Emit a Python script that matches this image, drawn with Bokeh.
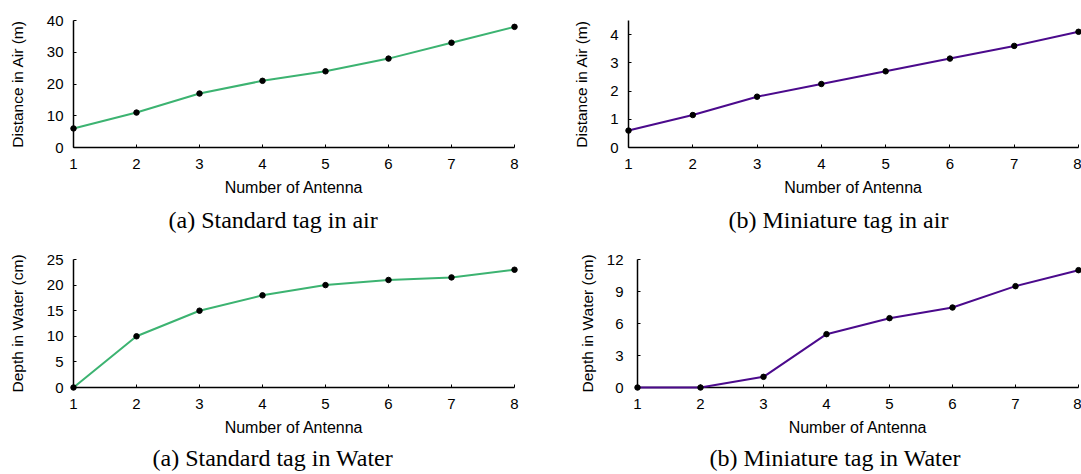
from bokeh.plotting import figure
from bokeh.layouts import column, row
from bokeh.models import Range1d, FixedTicker, Title
from bokeh.embed import file_html
from bokeh.resources import INLINE

# ---- data ----
antennas = [1, 2, 3, 4, 5, 6, 7, 8]
std_air = [6, 11, 17, 21, 24, 28, 33, 38]
mini_air = [0.6, 1.15, 1.8, 2.25, 2.7, 3.15, 3.6, 4.1]
std_water = [0, 10, 15, 18, 20, 21, 21.5, 23]
mini_water = [0, 0, 1, 5, 6.5, 7.5, 9.5, 11]

x_ticks = [1, 2, 3, 4, 5, 6, 7, 8]
std_air_ticks = [0, 10, 20, 30, 40]
mini_air_ticks = [0, 1, 2, 3, 4]
std_water_ticks = [0, 5, 10, 15, 20, 25]
mini_water_ticks = [0, 3, 6, 9, 12]

x_label = "Number of Antenna"
y_label_air = "Distance in Air (m)"
y_label_water = "Depth in Water (cm)"
captions = ["(a) Standard tag in air", "(b) Miniature tag in air",
            "(a) Standard tag in Water", "(b) Miniature tag in Water"]

GREEN = "#3cb371"
PURPLE = "#4b0a8c"
SANS = "Liberation Sans"
SERIF = "Liberation Serif"


def panel(y, color, ymax, yticks, ylabel, caption, fw, fh, bl, br, bt, bb,
          cap_offset, cap_standoff, lab_standoff, axlab_standoff):
    p = figure(frame_width=fw, frame_height=fh,
               min_border_left=bl, min_border_right=br,
               min_border_top=bt, min_border_bottom=bb,
               x_range=Range1d(antennas[0], antennas[-1]),
               y_range=Range1d(0, ymax),
               output_backend="svg", toolbar_location=None, title=None)
    p.outline_line_color = None
    p.xgrid.visible = False
    p.ygrid.visible = False
    p.background_fill_color = "white"
    p.border_fill_color = "white"

    p.line(antennas, y, line_width=2, color=color, level="overlay")
    p.scatter(antennas, y, size=5.5, color="black", level="overlay")

    p.xaxis.ticker = FixedTicker(ticks=x_ticks)
    p.yaxis.ticker = FixedTicker(ticks=yticks)
    for ax in (p.xaxis[0], p.yaxis[0]):
        ax.axis_line_width = 1.5
        ax.axis_line_color = "black"
        ax.major_tick_in = 3
        ax.major_tick_out = 0
        ax.major_tick_line_color = "black"
        ax.minor_tick_line_color = None
        ax.major_label_text_font = SANS
        ax.major_label_text_font_size = "15px"
        ax.major_label_text_color = "black"
        ax.axis_label_text_font = SANS
        ax.axis_label_text_font_style = "normal"
        ax.axis_label_text_color = "black"
    p.xaxis.axis_label = x_label
    p.yaxis.axis_label = ylabel
    p.xaxis.axis_label_text_font_size = "16px"
    p.yaxis.axis_label_text_font_size = "15.5px"
    p.xaxis.major_label_standoff = 11
    p.xaxis.axis_label_standoff = 7
    p.yaxis.major_label_standoff = lab_standoff
    p.yaxis.axis_label_standoff = axlab_standoff

    t = Title(text=caption, align="left", offset=cap_offset,
              text_font=SERIF, text_font_size="24px",
              text_font_style="normal", text_color="black",
              standoff=cap_standoff)
    p.add_layout(t, "below")
    return p


p1 = panel(std_air, GREEN, 40, std_air_ticks, y_label_air, captions[0],
           441, 127, 73, 26, 20, 93, 95, 12, 10, 18)
p2 = panel(mini_air, PURPLE, 4.5, mini_air_ticks, y_label_air, captions[1],
           450, 127, 88, 3, 20, 93, 100, 12, 10, 17)
p3 = panel(std_water, GREEN, 25, std_water_ticks, y_label_water, captions[2],
           441, 128, 73, 26, 19, 87, 79, 9, 10, 18)
p4 = panel(mini_water, PURPLE, 12, mini_water_ticks, y_label_water, captions[3],
           441, 128, 97, 3, 19, 87, 72, 9, 14, 8)

layout = column(row(p1, p2), row(p3, p4))

open("out.html", "w").write(file_html(layout, INLINE))
